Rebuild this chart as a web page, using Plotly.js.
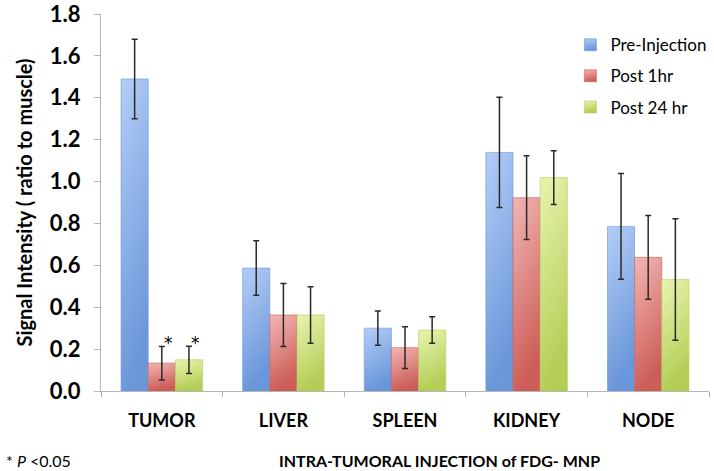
<!DOCTYPE html>
<html>
<head>
<meta charset="utf-8">
<script src="https://cdn.plot.ly/plotly-3.0.1.min.js"></script>
<style>
  html, body { margin: 0; padding: 0; background: #fff; }
  #chart { width: 714px; height: 471px; }
</style>
</head>
<body>
<div id="chart"></div>
<script>
const categories = ["TUMOR", "LIVER", "SPLEEN", "KIDNEY", "NODE"];
const seriesNames = ["Pre-Injection", "Post 1hr", "Post 24 hr"];
const preInjection = [1.49, 0.587, 0.30, 1.139, 0.786];
const preInjectionErr = [0.19, 0.13, 0.082, 0.263, 0.252];
const post1hr = [0.133, 0.363, 0.207, 0.923, 0.638];
const post1hrErr = [0.08, 0.15, 0.10, 0.20, 0.20];
const post24hr = [0.149, 0.363, 0.291, 1.019, 0.532];
const post24hrErr = [0.065, 0.135, 0.063, 0.128, 0.29];
const yTicks = [0, 0.2, 0.4, 0.6, 0.8, 1.0, 1.2, 1.4, 1.6, 1.8];

const baseColors = ["#8fb1ea", "#e08a86", "#d3e585"];
const gradStops = [
  ["#b4cdf6", "#6a96da"],
  ["#f2b6b3", "#cc5d57"],
  ["#e8f4b0", "#b3cd55"]
];

const values = [preInjection, post1hr, post24hr];
const errors = [preInjectionErr, post1hrErr, post24hrErr];

const traces = values.map((v, i) => ({
  type: "bar",
  name: seriesNames[i],
  x: categories,
  y: v,
  legendgroup: "g" + i,
  marker: { color: baseColors[i], line: { color: gradStops[i][1], width: 0.6 } },
  error_y: { type: "data", array: errors[i], visible: true, color: "#2a2a2a", thickness: 1.5, width: 3 },
  hoverinfo: "skip"
}));

const layout = {
  width: 714, height: 471,
  margin: { l: 101, r: 2, t: 14, b: 80 },
  paper_bgcolor: "#ffffff",
  plot_bgcolor: "#ffffff",
  barmode: "group",
  bargap: 0.33,
  bargroupgap: 0,
  font: { family: "Lato, 'Open Sans', sans-serif", color: "#000" },
  showlegend: true,
  legend: {
    x: 0.772, xanchor: "left", y: 0.965, yanchor: "top",
    font: { size: 17, color: "#000", family: "Lato, sans-serif" },
    traceorder: "grouped", tracegroupgap: 6, itemwidth: 30,
    bgcolor: "rgba(0,0,0,0)"
  },
  xaxis: {
    type: "category",
    showline: true, linecolor: "#b5b5b5", linewidth: 1.2,
    ticks: "outside", tickson: "boundaries", ticklen: 5, tickcolor: "#b5b5b5",
    tickfont: { size: 18, family: "Lato, sans-serif", color: "#000", weight: "bold" },
    showgrid: false, zeroline: false,
    ticklabelstandoff: 13
  },
  yaxis: {
    range: [0, 1.8],
    tickvals: yTicks,
    ticktext: yTicks.map(v => v.toFixed(1)),
    showline: true, linecolor: "#b5b5b5", linewidth: 1.2,
    ticks: "outside", ticklen: 6, tickcolor: "#b5b5b5",
    tickfont: { size: 22, family: "Lato, sans-serif", color: "#000", weight: "bold" },
    ticklabelstandoff: 9,
    ticklabeloverflow: "allow",
    showgrid: false, zeroline: false,
    title: {
      text: "Signal Intensity ( ratio to muscle)",
      font: { size: 20, family: "Lato, sans-serif", color: "#000", weight: "bold" },
      standoff: 11
    }
  },
  annotations: [
    { x: "TUMOR", y: 0.228, xref: "x", yref: "y", text: "*", showarrow: false,
      xshift: 7, yanchor: "middle", font: { size: 17, color: "#000000", family: "DejaVu Sans, sans-serif" } },
    { x: "TUMOR", y: 0.228, xref: "x", yref: "y", text: "*", showarrow: false,
      xshift: 34, yanchor: "middle", font: { size: 17, color: "#000000", family: "DejaVu Sans, sans-serif" } },
    { x: -0.1588, y: -0.185, xref: "paper", yref: "paper", xanchor: "left", yanchor: "middle",
      text: "* <i>P</i> <0.05", showarrow: false,
      font: { size: 16, color: "#000", family: "Lato, sans-serif" } },
    { x: 0.5565, y: -0.185, xref: "paper", yref: "paper", xanchor: "center", yanchor: "middle",
      text: "<b>INTRA-TUMORAL INJECTION of FDG- MNP</b>", showarrow: false,
      font: { size: 16, color: "#000", family: "Lato, sans-serif" } }
  ]
};

function applyGradients(gd) {
  const svg = gd.querySelector("svg.main-svg");
  if (!svg) return;
  const ns = "http://www.w3.org/2000/svg";
  let defs = svg.querySelector("defs");
  if (!defs) { defs = document.createElementNS(ns, "defs"); svg.insertBefore(defs, svg.firstChild); }
  gradStops.forEach((st, i) => {
    const id = "barGrad" + i;
    if (document.getElementById(id)) return;
    const lg = document.createElementNS(ns, "linearGradient");
    lg.setAttribute("id", id);
    lg.setAttribute("x1", "0"); lg.setAttribute("y1", "0");
    lg.setAttribute("x2", "0.25"); lg.setAttribute("y2", "1");
    const s1 = document.createElementNS(ns, "stop");
    s1.setAttribute("offset", "0"); s1.setAttribute("stop-color", st[0]);
    const s2 = document.createElementNS(ns, "stop");
    s2.setAttribute("offset", "1"); s2.setAttribute("stop-color", st[1]);
    lg.appendChild(s1); lg.appendChild(s2);
    defs.appendChild(lg);
  });
  const traceGroups = gd.querySelectorAll(".barlayer .trace");
  traceGroups.forEach((g, i) => {
    g.querySelectorAll(".point path").forEach(p => {
      p.style.fill = "url(#barGrad" + i + ")";
    });
  });
  const legendItems = gd.querySelectorAll(".legend .traces");
  legendItems.forEach((g, i) => {
    g.querySelectorAll(".legendpoints path").forEach(p => {
      p.style.fill = "url(#barGrad" + i + ")";
    });
  });
}

Plotly.newPlot("chart", traces, layout, { staticPlot: true, displayModeBar: false })
  .then(gd => applyGradients(gd));
</script>
</body>
</html>
